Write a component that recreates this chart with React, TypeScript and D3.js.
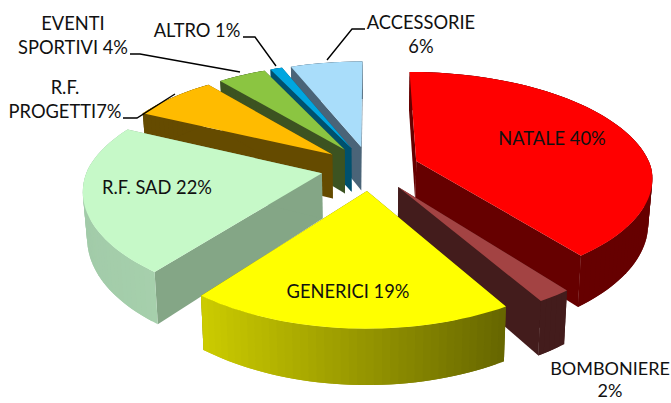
import React from "react";
import * as d3 from "d3";

const categories = ["NATALE", "BOMBONIERE", "GENERICI", "R.F. SAD", "R.F. PROGETTI", "EVENTI SPORTIVI", "ALTRO", "ACCESSORIE"];
const values = [40, 2, 19, 22, 7, 4, 1, 6];
const topColors = ["#ff0000", "#a34343", "#ffff00", "#c6f9c8", "#ffbb00", "#8bc541", "#00a6e0", "#a9ddfa"];
const faceColors = ["#660000", "#431c1c", "#666600", "#84a686", "#654b00", "#3c5321", "#00516e", "#4a6478"];
const wallLeft = ["#660000", "#431c1c", "#cccc00", "#a2cba9", "#654b00", "#3c5321", "#00516e", "#4a6478"];
const wallRight = ["#660000", "#431c1c", "#666600", "#a6d0ac", "#654b00", "#3c5321", "#00516e", "#4a6478"];

type Lbl = { lines: string[]; x: number; y: number; size?: number; lineH?: number };
const labels: Lbl[] = [
  { lines: ["NATALE 40%"], x: 552, y: 145 },
  { lines: ["BOMBONIERE", "2%"], x: 610, y: 375, size: 18, lineH: 22 },
  { lines: ["GENERICI 19%"], x: 348, y: 298 },
  { lines: ["R.F. SAD 22%"], x: 157, y: 194 },
  { lines: ["R.F.", "PROGETTI7%"], x: 65, y: 94 },
  { lines: ["EVENTI", "SPORTIVI 4%"], x: 73, y: 30 },
  { lines: ["ALTRO 1%"], x: 197, y: 37 },
  { lines: ["ACCESSORIE", "6%"], x: 421, y: 29 },
];
const leaders = [
  [[327, 60], [352, 29], [365, 29]],
  [[243, 37], [255, 37], [276, 66]],
  [[130, 54], [140, 54], [240, 72]],
  [[123, 118], [137, 118], [175, 94]],
];

const CX = 370, CY = 168, SX_LEFT = 234, SX_RIGHT = 235, SY = 106;
const PERSP_Y = 0.167, PERSP_X_BACK = 0.17, PERSP_X_FRONT = 0.14;
const DEPTH = 45, EXPLODE = 0.21, BOTTOM_SHRINK = 0.985;
const LINE_H = 24, FONT_SIZE = 18.3;

function project(X: number, Y: number, bottom: boolean): [number, number] {
  const wy = 1 / (1 - PERSP_Y * Y);
  const wx = 1 / (1 - (Y < 0 ? PERSP_X_BACK : PERSP_X_FRONT) * Y);
  const sx = X < 0 ? SX_LEFT : SX_RIGHT;
  const x = CX + sx * X * wx * (bottom ? BOTTOM_SHRINK : 1);
  const y = CY + SY * Y * wy + (bottom ? DEPTH * wy : 0);
  return [x, y];
}
const pts = (p: [number, number][]) => p.map((d) => d.map((v) => v.toFixed(1)).join(",")).join(" ");

export default function App() {
  const arcs = d3.pie<number>().sort(null).startAngle(0).endAngle(2 * Math.PI)(values);
  const slices = arcs.map((a, i) => {
    const mid = (a.startAngle + a.endAngle) / 2;
    const ox = EXPLODE * Math.sin(mid), oy = -EXPLODE * Math.cos(mid);
    const n = Math.max(4, Math.ceil((a.endAngle - a.startAngle) / 0.03));
    const angle = d3.scaleLinear().domain([0, n]).range([a.startAngle, a.endAngle]);
    const rim = d3.range(n + 1).map((k) => {
      const t = angle(k);
      return [ox + Math.sin(t), oy - Math.cos(t)] as [number, number];
    });
    return { i, ox, oy, rim, sortY: oy };
  });
  const order = [...slices].sort((a, b) => a.sortY - b.sortY);

  return (
    <svg width={671} height={403} style={{ position: "absolute", left: 0, top: 0, background: "#fff" }}>
      {order.map((s) => {
        const { i, ox, oy, rim } = s;
        const topApex = project(ox, oy, false), botApex = project(ox, oy, true);
        const first = rim[0], last = rim[rim.length - 1];
        const faceA: [number, number][] = [topApex, project(first[0], first[1], false), project(first[0], first[1], true), botApex];
        const faceB: [number, number][] = [topApex, botApex, project(last[0], last[1], true), project(last[0], last[1], false)];
        const topRim = rim.map((p) => project(p[0], p[1], false));
        const botRim = rim.map((p) => project(p[0], p[1], true));
        const xs = topRim.map((p) => p[0]);
        const shade = d3.scaleLinear<string>()
          .domain([d3.min(xs) as number, d3.max(xs) as number])
          .range([wallLeft[i], wallRight[i]]);
        const top: [number, number][] = [topApex, ...topRim];
        return (
          <g key={categories[i]}>
            {[faceA, faceB].map((f, k) => (
              <polygon key={k} points={pts(f)} fill={faceColors[i]} />
            ))}
            {rim.slice(1).map((_, k) => {
              // each wall quad runs one step past its neighbour, so no seams show between them
              const next = Math.min(k + 2, rim.length - 1);
              const quad: [number, number][] = [topRim[k], topRim[next], botRim[next], botRim[k]];
              const c = shade((topRim[k][0] + topRim[k + 1][0]) / 2);
              return <polygon key={k} points={pts(quad)} fill={c} />;
            })}
            <polygon points={pts(top)} fill={topColors[i]} />
          </g>
        );
      })}
      {leaders.map((l, i) => (
        <polyline key={i} points={pts(l as [number, number][])} fill="none" stroke="#000" strokeWidth={1.4} />
      ))}
      {labels.map((l) => (
        <text key={l.lines[0]} textAnchor="middle" fontFamily="Lato, 'Open Sans', sans-serif" fontSize={l.size ?? FONT_SIZE} fill="#111">
          {l.lines.map((t, k) => (
            <tspan key={k} x={l.x} y={l.y + k * (l.lineH ?? LINE_H)}>{t}</tspan>
          ))}
        </text>
      ))}
    </svg>
  );
}
